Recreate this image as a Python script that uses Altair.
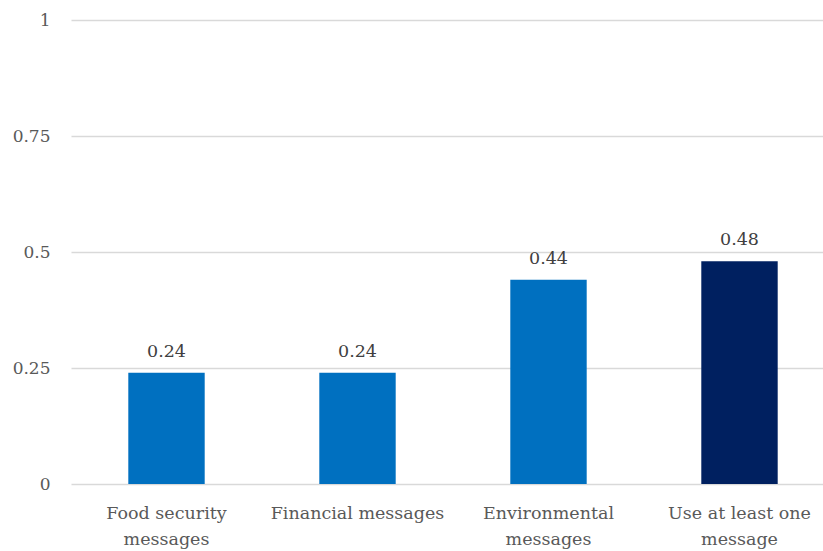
import altair as alt
import pandas as pd

categories = ["Food security messages", "Financial messages", "Environmental messages", "Use at least one message"]
values = [0.24, 0.24, 0.44, 0.48]
bar_colors = ["#0070C0", "#0070C0", "#0070C0", "#002060"]
y_ticks = [0, 0.25, 0.5, 0.75, 1]

df = pd.DataFrame({"category": categories, "value": values, "color": bar_colors})

FONT = "DejaVu Serif"
GREY = "#595959"

label_expr = (
    "datum.value == 'Food security messages' ? ['Food security', 'messages'] : "
    "datum.value == 'Environmental messages' ? ['Environmental', 'messages'] : "
    "datum.value == 'Use at least one message' ? ['Use at least one', 'message'] : datum.value"
)

x = alt.X(
    "category:N",
    sort=categories,
    title=None,
    scale=alt.Scale(paddingInner=0.6, paddingOuter=0.3, range=[0, 764]),
    axis=alt.Axis(
        labelAngle=0, ticks=False, domain=False, grid=False, labelPadding=20,
        labelFont=FONT, labelFontSize=17.5, labelColor=GREY,
        labelExpr=label_expr, labelLineHeight=26, labelBaseline="top",
    ),
)
y = alt.Y(
    "value:Q",
    title=None,
    scale=alt.Scale(domain=[0, 1], nice=False),
    axis=alt.Axis(
        values=y_ticks, format=".2~f", ticks=False, domain=False,
        labelPadding=21, labelFont=FONT, labelFontSize=17, labelColor=GREY,
        gridColor="#D9D9D9", gridWidth=1.5,
    ),
)

bars = alt.Chart(df).mark_bar().encode(
    x=x, y=y,
    color=alt.Color("color:N", scale=None, legend=None),
)

text = alt.Chart(df).mark_text(
    baseline="bottom", dy=-12, font=FONT, fontSize=17.5, color="#404040"
).encode(
    x=alt.X("category:N", sort=categories),
    y="value:Q",
    text=alt.Text("value:Q", format=".2f"),
)

chart = (bars + text).properties(
    width=752, height=464,
    autosize=alt.AutoSizeParams(type="none"),
    padding={"left": 71, "top": 20, "right": 0, "bottom": 67},
    background="white",
).configure_view(stroke=None)

chart.save("out.html", embed_options={"renderer": "svg", "actions": False})
